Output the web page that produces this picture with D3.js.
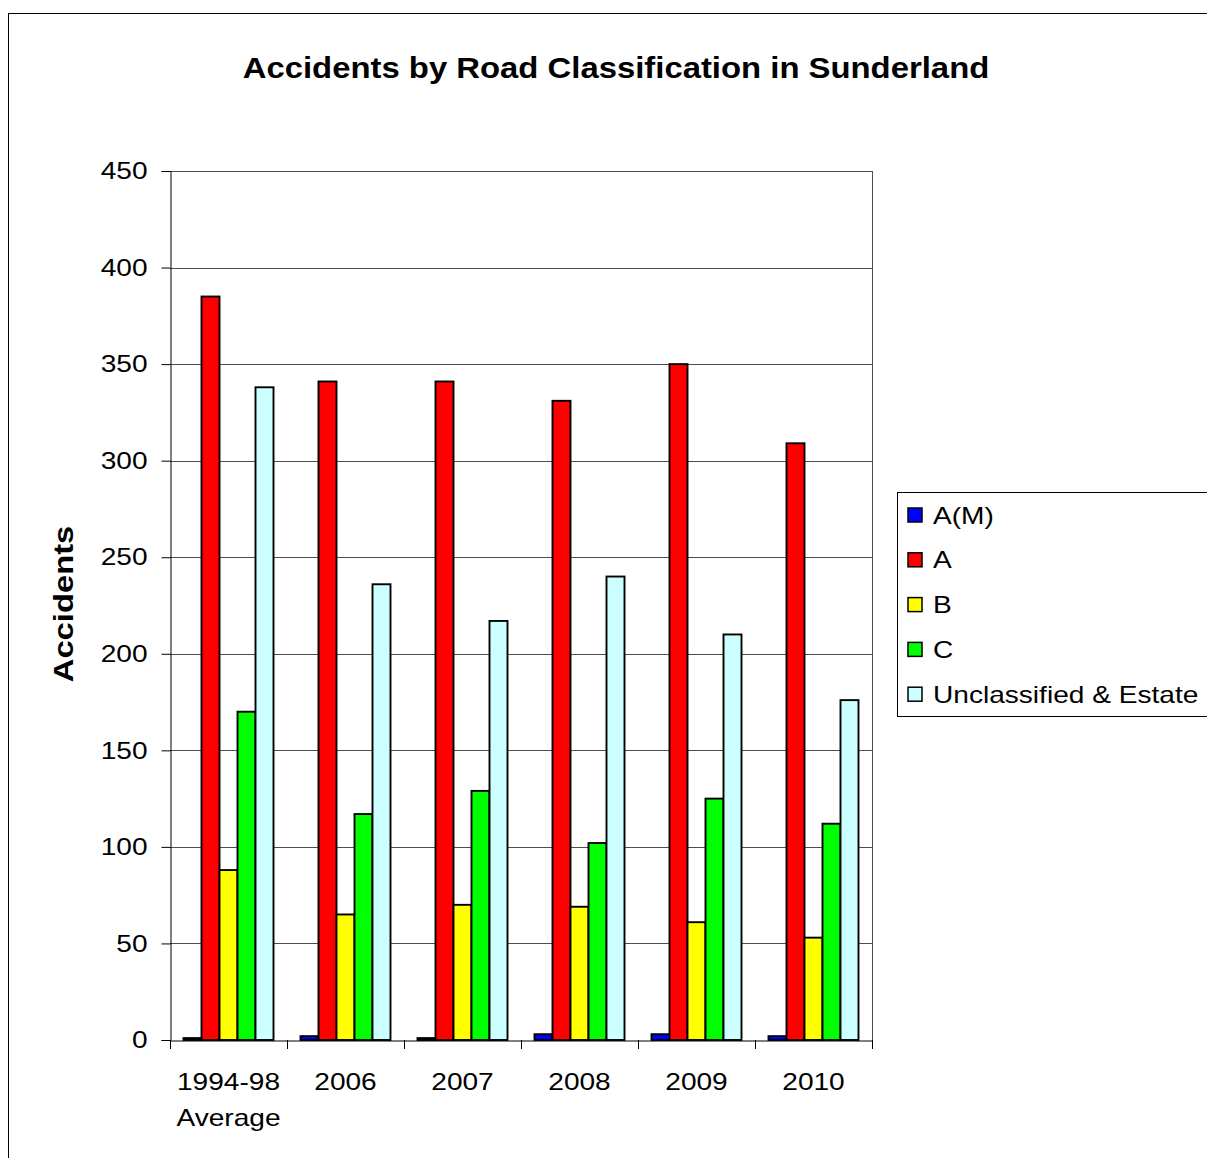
<!DOCTYPE html>
<html>
<head>
<meta charset="utf-8">
<script src="https://cdn.jsdelivr.net/npm/d3@7"></script>
<style>
  html, body { margin: 0; padding: 0; background: #fff; }
  svg { display: block; }
  text { font-family: "Liberation Sans", Arial, sans-serif; fill: #000; }
</style>
</head>
<body>
<svg id="chart" width="1207" height="1158"></svg>
<script>
const categories = ["1994-98\nAverage", "2006", "2007", "2008", "2009", "2010"];
const seriesNames = ["A(M)", "A", "B", "C", "Unclassified & Estate"];
const seriesColors = ["#0000FF", "#FF0000", "#FFFF00", "#00FF00", "#CCFFFF"];
const valuesAM = [1, 2, 1, 3, 3, 2];
const valuesA = [385, 341, 341, 331, 350, 309];
const valuesB = [88, 65, 70, 69, 61, 53];
const valuesC = [170, 117, 129, 102, 125, 112];
const valuesU = [338, 236, 217, 240, 210, 176];
const yTicks = [0, 50, 100, 150, 200, 250, 300, 350, 400, 450];
const titleText = "Accidents by Road Classification in Sunderland";
const yTitle = "Accidents";

const seriesValues = [valuesAM, valuesA, valuesB, valuesC, valuesU];
const STRETCH = 1.17;

function stretch(sel, k) {
  sel.each(function() {
    const w = this.getComputedTextLength();
    d3.select(this).attr("textLength", w * (k || STRETCH)).attr("lengthAdjust", "spacingAndGlyphs");
  });
}

const svg = d3.select("#chart");

// outer chart frame (extends beyond right/bottom edge)
svg.append("rect")
  .attr("x", 8.5).attr("y", 13.5)
  .attr("width", 1220).attr("height", 1170)
  .attr("fill", "#fff").attr("stroke", "#000").attr("stroke-width", 1);

const plot = { left: 170, right: 872, top: 171, bottom: 1040 };

const x = d3.scaleBand().domain(categories).range([plot.left, plot.right]).paddingInner(0).paddingOuter(0);
const xs = d3.scaleBand().domain(seriesNames).range([0, x.bandwidth()]).paddingInner(0).paddingOuter(0.75);
const y = d3.scaleLinear().domain([0, 450]).range([plot.bottom, plot.top]);
const color = d3.scaleOrdinal().domain(seriesNames).range(seriesColors);

// gridlines
svg.append("g").selectAll("line").data(yTicks.filter(d => d > 0)).join("line")
  .attr("x1", plot.left).attr("x2", plot.right)
  .attr("y1", d => Math.round(y(d)) + 0.5).attr("y2", d => Math.round(y(d)) + 0.5)
  .attr("stroke", "#4d4d4d").attr("stroke-width", 1);

// plot area border right side
svg.append("line")
  .attr("x1", plot.right + 0.5).attr("x2", plot.right + 0.5)
  .attr("y1", plot.top).attr("y2", plot.bottom)
  .attr("stroke", "#4d4d4d");

// bars
const data = [];
categories.forEach((c, i) => {
  seriesNames.forEach((s, j) => data.push({ cat: c, series: s, value: seriesValues[j][i] }));
});
svg.append("g").selectAll("rect").data(data).join("rect")
  .attr("x", d => x(d.cat) + xs(d.series))
  .attr("y", d => y(d.value))
  .attr("width", xs.bandwidth())
  .attr("height", d => y(0) - y(d.value))
  .attr("fill", d => color(d.series))
  .attr("stroke", "#000").attr("stroke-width", 1.9);

// y axis
const yAxis = d3.axisLeft(y).tickValues(yTicks).tickSize(9).tickPadding(14).tickFormat(d3.format("d"));
const gy = svg.append("g").attr("transform", `translate(${plot.left + 0.5},0)`).call(yAxis);
gy.select(".domain").attr("stroke", "#000");
gy.selectAll(".tick line").attr("stroke", "#000");
gy.selectAll("text").style("font-size", "24px").attr("font-family", "Liberation Sans, Arial, sans-serif").attr("fill", "#000");
stretch(gy.selectAll("text"));

// x axis
const xAxis = d3.axisBottom(x).tickSize(0).tickFormat("");
const gx = svg.append("g").attr("transform", `translate(0,${plot.bottom + 0.5})`).call(xAxis);
gx.select(".domain").attr("stroke", "#000");
const bounds = categories.map(c => x(c)).concat([plot.right]);
svg.append("g").selectAll("line").data(bounds).join("line")
  .attr("x1", d => Math.round(d) + 0.5).attr("x2", d => Math.round(d) + 0.5)
  .attr("y1", plot.bottom).attr("y2", plot.bottom + 9)
  .attr("stroke", "#000");

// x labels (one text element per line)
const labelLines = [];
categories.forEach(c => c.split("\n").forEach((l, k) => labelLines.push({ cat: c, text: l, k })));
const xl = svg.append("g").selectAll("text").data(labelLines).join("text")
  .attr("x", d => x(d.cat) + x.bandwidth() / 2)
  .attr("y", d => 1090 + d.k * 36)
  .attr("text-anchor", "middle")
  .style("font-size", "24px")
  .text(d => d.text);
stretch(xl);

// title
const tt = svg.append("text")
  .attr("x", 616).attr("y", 78)
  .attr("text-anchor", "middle")
  .style("font-size", "30px").style("font-weight", "bold")
  .text(titleText);
stretch(tt, 1.095);

// y title
const yt = svg.append("text")
  .attr("transform", `translate(73,604) rotate(-90)`)
  .attr("text-anchor", "middle")
  .style("font-size", "28px").style("font-weight", "bold")
  .text(yTitle);
stretch(yt);

// legend
const lg = svg.append("g");
lg.append("rect").attr("x", 897.5).attr("y", 492.5).attr("width", 330).attr("height", 224)
  .attr("fill", "#fff").attr("stroke", "#000");
const rows = lg.selectAll("g").data(seriesNames).join("g")
  .attr("transform", (d, i) => `translate(0,${515 + i * 44.8})`);
rows.append("rect").attr("x", 908).attr("y", -7).attr("width", 14).attr("height", 14)
  .attr("fill", d => color(d)).attr("stroke", "#000").attr("stroke-width", 1.5);
const lt = rows.append("text").attr("x", 933).attr("y", 8.5).style("font-size", "24px").text(d => d);
stretch(lt);
</script>
</body>
</html>
